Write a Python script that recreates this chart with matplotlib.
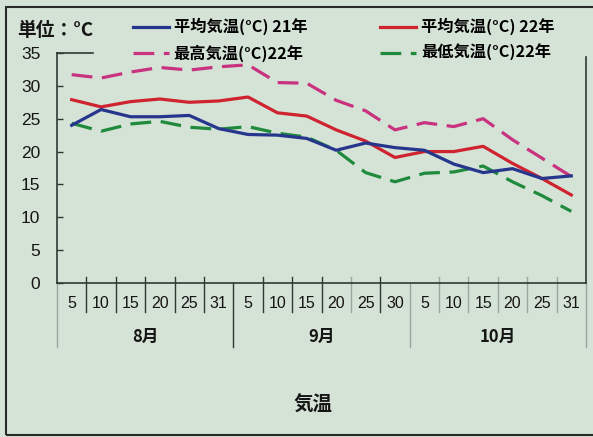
import matplotlib
matplotlib.use('Agg')
import matplotlib.pyplot as plt
import matplotlib.transforms as mtransforms
from matplotlib.patches import Rectangle

# ---- data ----
days = ['5', '10', '15', '20', '25', '31',
        '5', '10', '15', '20', '25', '30',
        '5', '10', '15', '20', '25', '31']
months = ['8月', '9月', '10月']
avg21 = [24.0, 26.4, 25.3, 25.3, 25.5, 23.5, 22.6, 22.5, 22.0, 20.2, 21.3, 20.6,
         20.2, 18.1, 16.8, 17.4, 15.9, 16.3]
avg22 = [27.9, 26.8, 27.6, 28.0, 27.5, 27.7, 28.3, 25.9, 25.4, 23.3, 21.6, 19.1,
         20.0, 20.0, 20.8, 18.2, 15.9, 13.4]
max22 = [31.7, 31.2, 32.1, 32.8, 32.4, 32.9, 33.2, 30.5, 30.4, 27.8, 26.2, 23.3,
         24.4, 23.8, 25.0, 21.8, 19.0, 16.2]
min22 = [24.3, 23.1, 24.2, 24.6, 23.7, 23.4, 23.8, 22.8, 22.2, 20.2, 16.8, 15.4,
         16.7, 16.9, 17.8, 15.4, 13.3, 10.9]
labels = ['平均気温(°C) 21年', '最高気温(°C)22年', '平均気温(°C) 22年', '最低気温(°C)22年']
yticks = [0, 5, 10, 15, 20, 25, 30, 35]

plt.rcParams['font.family'] = ['Liberation Sans', 'Noto Sans CJK JP', 'DejaVu Sans']

W, H = 593, 437
fig = plt.figure(figsize=(W / 100, H / 100), dpi=100)
bg = '#d5e2d6'
fig.patch.set_facecolor(bg)


def fx(px):
    return px / W


def fy(py):
    return 1 - py / H


ax = fig.add_axes([fx(57), fy(283), (586 - 57) / W, (283 - 53) / H])
ax.set_facecolor('none')

n = len(days)
x = [i + 0.5 for i in range(n)]
lw = 2.3
l1, = ax.plot(x, avg21, color='#26368c', lw=lw, label=labels[0], zorder=4)
l2, = ax.plot(x, max22, color='#c8327f', lw=lw, dashes=(6.5, 3), label=labels[1], zorder=3)
l3, = ax.plot(x, avg22, color='#cf2330', lw=lw, label=labels[2], zorder=3)
l4, = ax.plot(x, min22, color='#1f8a3c', lw=lw, dashes=(6.5, 3), label=labels[3], zorder=2)

ax.set_xlim(0, n)
ax.set_ylim(0, 35)
ax.set_yticks(yticks)
ax.set_xticks([])
dark = '#2b3a33'
ax.tick_params(axis='y', direction='in', length=4, width=1, pad=12,
               labelsize=12.5, color=dark, labelcolor='#151515')
for s in ['left', 'bottom', 'right']:
    ax.spines[s].set_color(dark)
    ax.spines[s].set_linewidth(1.2)
ax.spines['top'].set_visible(False)
ax.spines['right'].set_bounds(0, 34.4)
ax.plot([0, 1.22], [35, 35], color=dark, lw=1.2, clip_on=False)

trans = mtransforms.blended_transform_factory(ax.transData, ax.transAxes)
light = '#9aa79e'
sep_colors = {1: dark, 2: dark, 3: dark, 4: dark, 5: dark, 7: dark, 8: dark, 9: dark,
              10: light, 11: dark, 13: light, 14: light, 15: light, 16: light, 17: light}
for k, c in sep_colors.items():
    ax.plot([k, k], [0.026, -0.126], transform=trans, color=c, lw=1.0, clip_on=False)
for k, c in [(0, light), (6, dark), (12, light), (18, light)]:
    ax.plot([k, k], [0.0, -0.278], transform=trans, color=c, lw=1.0, clip_on=False)

for i, d in enumerate(days):
    ax.text(i + 0.5, -0.087, d, transform=trans, ha='center', va='center',
            fontsize=11.5, color='#151515')
for j, m in enumerate(months):
    ax.text(j * 6 + 3, -0.235, m, transform=trans, ha='center', va='center',
            fontsize=12, color='#151515', fontweight='bold',
            family=['Noto Sans CJK JP'])

ax.legend(handles=[l1, l2, l3, l4], ncol=2, loc='upper left',
          bbox_to_anchor=(fx(133), fy(18)), bbox_transform=fig.transFigure,
          frameon=False, handlelength=2.2, handletextpad=0.3, columnspacing=4.5,
          labelspacing=0.55, borderpad=0, borderaxespad=0,
          prop={'family': ['Noto Sans CJK JP'], 'weight': 'bold', 'size': 11.7})

fig.text(fx(17), fy(30), '単位：°C', ha='left', va='center', fontsize=13.5,
         color='#151515', fontweight='bold', family=['Noto Sans CJK JP'])
fig.text(fx(313), fy(405), '気温', ha='center', va='center', fontsize=14,
         fontweight='bold', color='#151515', family=['Noto Sans CJK JP'])

fig.add_artist(Rectangle((fx(6), fy(435)), 1.0, fy(7) - fy(435),
                         transform=fig.transFigure, fill=False, lw=1.5, ec='#2a2a2a'))

fig.savefig('out.png', dpi=100, facecolor=bg)
